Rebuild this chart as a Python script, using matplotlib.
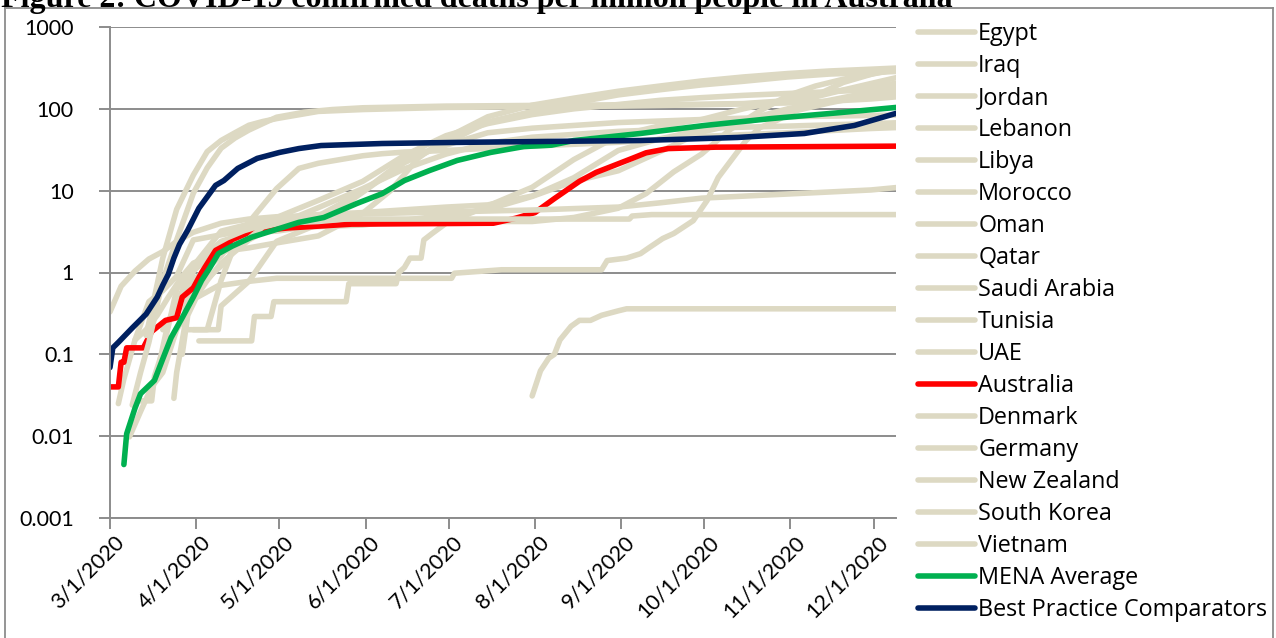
import matplotlib
matplotlib.use("Agg")
import matplotlib.pyplot as plt
import matplotlib.ticker as mticker
import matplotlib.transforms as mtransforms
from matplotlib.lines import Line2D
import pandas as pd

# ---- cumulative COVID-19 deaths per million people (2020) ----
egypt_dates = ["03-08", "03-12", "03-16", "03-20", "03-25", "03-31", "04-05", "04-10", "04-20", "04-30",
               "05-15", "05-31", "06-15", "06-30", "07-15", "07-31", "08-31", "09-30", "10-31", "11-30", "12-09"]
egypt_vals = [0.0098, 0.02, 0.04, 0.06, 0.2, 0.45, 0.8, 1.3, 2.5, 3.8,
              6.2, 10.6, 18.5, 28, 38, 45, 53, 58, 61.5, 66, 67.5]

iraq_dates = ["03-04", "03-06", "03-10", "03-14", "03-18", "03-22", "03-27", "03-31", "04-10", "04-20",
              "04-30", "05-15", "05-31", "06-10", "06-20", "06-30", "07-15", "07-31", "08-15", "08-31",
              "09-15", "09-30", "10-15", "10-31", "11-15", "11-30", "12-09"]
iraq_vals = [0.025, 0.05, 0.15, 0.2, 0.3, 0.5, 0.9, 1.3, 1.8, 2.0,
             2.3, 2.8, 5.3, 10, 25, 44, 80, 111, 135, 164,
             190, 219, 245, 270, 290, 305, 315]

jordan_dates = ["03-27", "03-29", "04-01", "04-09", "04-20", "04-30", "07-02", "07-03", "07-20", "08-25",
                "08-27", "09-03", "09-08", "09-11", "09-16", "09-20", "09-27", "10-02", "10-06", "10-16",
                "10-21", "10-27", "11-01", "11-10", "11-20", "12-01", "12-09"]
jordan_vals = [0.1, 0.3, 0.49, 0.69, 0.78, 0.85, 0.85, 0.98, 1.08, 1.08,
               1.4, 1.5, 1.7, 2.0, 2.6, 3.0, 4.3, 7.6, 14.5, 41,
               59, 72, 88, 145, 210, 270, 305]

lebanon_dates = ["03-10", "03-15", "03-20", "03-25", "03-31", "04-15", "04-30", "05-31", "06-30", "07-15",
                 "07-31", "08-15", "08-31", "09-15", "09-30", "10-15", "10-31", "11-15", "11-30", "12-09"]
lebanon_vals = [0.15, 0.44, 0.6, 0.9, 2.5, 3.1, 3.5, 3.8, 5.0, 5.9,
                8.5, 13, 17.5, 30, 52, 68, 90, 118, 150, 160]

libya_dates = ["04-02", "04-21", "04-22", "04-28", "04-29", "05-25", "05-26", "06-12", "06-13", "06-15",
               "06-17", "06-21", "06-22", "06-25", "06-30", "07-15", "07-31", "08-15", "08-31", "09-15",
               "09-30", "10-15", "10-31", "11-15", "11-30", "12-09"]
libya_vals = [0.146, 0.146, 0.29, 0.29, 0.44, 0.44, 0.73, 0.73, 1.0, 1.15,
              1.5, 1.5, 2.5, 3.0, 4.0, 6.5, 11, 24, 47, 62,
              74, 100, 131, 160, 186, 205]

morocco_dates = ["03-10", "03-16", "03-17", "03-20", "03-25", "03-31", "04-10", "04-20", "04-30", "05-15",
                 "05-31", "06-30", "07-15", "07-31", "08-15", "08-31", "09-15", "09-30", "10-15", "10-31",
                 "11-15", "11-30", "12-09"]
morocco_vals = [0.027, 0.027, 0.054, 0.11, 0.62, 1.2, 3.2, 3.9, 4.6, 5.1,
                5.4, 6.3, 6.7, 8.6, 14.4, 31, 43, 55, 72, 100,
                127, 160, 178]

oman_dates = ["03-31", "04-09", "04-10", "04-20", "04-30", "05-15", "05-31", "06-15", "06-30", "07-15",
              "07-31", "08-15", "08-31", "09-15", "09-30", "10-15", "10-31", "11-15", "11-30", "12-09"]
oman_vals = [0.2, 0.2, 0.39, 0.78, 2.4, 3.9, 9.6, 22, 38, 69,
             93, 118, 148, 171, 196, 217, 245, 266, 278, 286]

qatar_dates = ["03-28", "03-31", "04-10", "04-20", "04-30", "05-15", "05-31", "06-15", "06-30", "07-15",
               "07-31", "08-31", "09-30", "10-31", "11-30", "12-09"]
qatar_vals = [0.35, 1.04, 2.1, 3.5, 4.2, 4.9, 9.7, 24, 36, 51,
              58, 68, 74, 80, 83, 84]

saudi_dates = ["03-24", "03-25", "03-28", "03-31", "04-10", "04-20", "04-30", "05-15", "05-31", "06-15",
               "06-30", "07-15", "07-31", "08-15", "08-31", "09-15", "09-30", "10-15", "10-31", "11-15",
               "11-30", "12-09"]
saudi_vals = [0.029, 0.06, 0.23, 0.6, 1.2, 3.0, 4.7, 7.6, 13, 27,
              47, 66, 85, 100, 113, 127, 137, 146, 154, 162,
              171, 173]

tunisia_dates = ["03-19", "03-22", "03-25", "03-31", "04-10", "04-20", "04-30", "05-15", "05-31", "06-30",
                 "07-31", "08-15", "08-31", "09-10", "09-20", "09-30", "10-10", "10-20", "10-31", "11-10",
                 "11-20", "11-30", "12-09"]
tunisia_vals = [0.085, 0.25, 0.42, 1.2, 2.4, 3.1, 3.2, 3.8, 4.2, 4.2,
                4.2, 4.7, 6.1, 9.2, 17, 28, 55, 90, 145, 190,
                230, 265, 300]

uae_dates = ["03-20", "03-31", "04-10", "04-20", "04-30", "05-08", "05-15", "05-31", "06-07", "06-15",
             "06-30", "07-31", "08-31", "09-30", "10-31", "11-30", "12-09"]
uae_vals = [0.2, 0.8, 1.6, 4.1, 10.6, 18.7, 21.6, 26.7, 28.3, 29.6,
            31, 35, 39, 46, 51, 57.5, 59]

australia_dates = ["03-01", "03-04", "03-05", "03-06", "03-07", "03-13", "03-16", "03-21", "03-25", "03-27",
                   "03-31", "04-03", "04-08", "04-13", "04-19", "04-26", "05-04", "05-27", "07-17", "07-25",
                   "08-01", "08-08", "08-17", "08-23", "09-05", "09-10", "09-18", "10-05", "12-09"]
australia_vals = [0.04, 0.04, 0.08, 0.08, 0.12, 0.12, 0.19, 0.26, 0.28, 0.5,
                  0.65, 1.0, 1.86, 2.3, 2.8, 3.3, 3.5, 3.9, 4.0, 4.6,
                  5.4, 8.0, 13, 16.7, 24.8, 29, 32.7, 34, 35]

denmark_dates = ["03-14", "03-17", "03-20", "03-25", "03-31", "04-05", "04-10", "04-15", "04-20", "04-25",
                 "04-30", "05-15", "05-31", "06-30", "07-31", "08-31", "09-30", "10-31", "11-15", "11-30",
                 "12-09"]
denmark_vals = [0.17, 0.5, 1.5, 5.9, 15.5, 30, 41, 51, 63, 70,
                76, 93, 98, 104, 106, 108, 112, 118, 124, 132,
                140]

germany_dates = ["03-09", "03-12", "03-15", "03-20", "03-25", "03-31", "04-05", "04-10", "04-15", "04-20",
                 "04-25", "04-30", "05-10", "05-20", "05-31", "06-30", "07-31", "08-31", "09-30", "10-15",
                 "10-31", "11-10", "11-20", "11-30", "12-09"]
germany_vals = [0.024, 0.06, 0.14, 0.8, 2.5, 9.3, 19, 33, 44, 55,
                66, 79, 91, 98, 103, 108, 110, 112, 114, 116,
                126, 140, 170, 204, 240]

nz_dates = ["03-29", "04-05", "04-10", "04-15", "04-20", "04-25", "05-01", "05-15", "05-25", "09-04",
            "09-05", "09-12", "12-09"]
nz_vals = [0.2, 0.2, 0.8, 2.2, 2.6, 3.6, 4.0, 4.2, 4.5, 4.5,
           4.9, 5.1, 5.1]

korea_dates = ["03-01", "03-05", "03-10", "03-15", "03-20", "03-25", "03-31", "04-10", "04-20", "04-30",
               "05-31", "06-30", "07-31", "08-31", "09-15", "09-30", "10-31", "11-30", "12-09"]
korea_vals = [0.33, 0.68, 1.04, 1.46, 1.8, 2.4, 3.1, 4.0, 4.5, 4.8,
              5.2, 5.5, 5.8, 6.3, 7.1, 8.1, 9.1, 10.2, 10.9]

vietnam_dates = ["07-31", "08-03", "08-06", "08-08", "08-10", "08-14", "08-17", "08-21", "08-25", "08-31",
                 "09-03", "12-09"]
vietnam_vals = [0.031, 0.063, 0.09, 0.1, 0.15, 0.22, 0.26, 0.26, 0.3, 0.34,
                0.36, 0.36]

mena_dates = ["03-06", "03-07", "03-10", "03-12", "03-17", "03-20", "03-23", "03-27", "03-31", "04-03",
              "04-06", "04-09", "04-14", "04-21", "05-01", "05-08", "05-17", "05-29", "06-07", "06-15",
              "06-24", "07-04", "07-16", "07-28", "08-07", "08-15", "09-08", "10-01", "10-25", "11-19",
              "12-09"]
mena_vals = [0.0045, 0.0107, 0.022, 0.033, 0.048, 0.088, 0.16, 0.28, 0.5, 0.8,
             1.15, 1.7, 2.1, 2.7, 3.45, 4.1, 4.7, 7.0, 9.2, 13.3,
             17.6, 23.4, 29.3, 34.6, 36, 41, 50, 62.6, 76, 90,
             104]

best_dates = ["03-01", "03-02", "03-04", "03-09", "03-14", "03-18", "03-20", "03-22", "03-24", "03-26",
              "03-29", "04-02", "04-08", "04-11", "04-16", "04-23", "05-01", "05-08", "05-16", "06-07",
              "07-04", "08-07", "09-08", "10-13", "11-06", "11-24", "12-09"]
best_vals = [0.069, 0.12, 0.14, 0.21, 0.31, 0.5, 0.7, 0.95, 1.5, 2.2,
             3.3, 6.1, 11.6, 13.3, 18.7, 24.8, 29.3, 32.7, 35.6, 37.7,
             38.9, 40, 41, 44.7, 50, 62.6, 88]

series_labels = ["Egypt", "Iraq", "Jordan", "Lebanon", "Libya", "Morocco", "Oman", "Qatar",
                 "Saudi Arabia", "Tunisia", "UAE", "Australia", "Denmark", "Germany",
                 "New Zealand", "South Korea", "Vietnam", "MENA Average", "Best Practice Comparators"]

y_ticks = [0.001, 0.01, 0.1, 1, 10, 100, 1000]
y_tick_labels = ["0.001", "0.01", "0.1", "1", "10", "100", "1000"]
x_ticks = ["2020-03-01", "2020-04-01", "2020-05-01", "2020-06-01", "2020-07-01",
           "2020-08-01", "2020-09-01", "2020-10-01", "2020-11-01", "2020-12-01"]
x_tick_labels = ["3/1/2020", "4/1/2020", "5/1/2020", "6/1/2020", "7/1/2020",
                 "8/1/2020", "9/1/2020", "10/1/2020", "11/1/2020", "12/1/2020"]

title_text = "Figure 2: COVID-19 confirmed deaths per million people in Australia"

# ---- styling ----
BEIGE = "#DDD9C3"
RED = "#FF0000"
GREEN = "#00B050"
NAVY = "#002060"
GRID = "#8C8C8C"

series = [
    (egypt_dates, egypt_vals, BEIGE), (iraq_dates, iraq_vals, BEIGE),
    (jordan_dates, jordan_vals, BEIGE), (lebanon_dates, lebanon_vals, BEIGE),
    (libya_dates, libya_vals, BEIGE), (morocco_dates, morocco_vals, BEIGE),
    (oman_dates, oman_vals, BEIGE), (qatar_dates, qatar_vals, BEIGE),
    (saudi_dates, saudi_vals, BEIGE), (tunisia_dates, tunisia_vals, BEIGE),
    (uae_dates, uae_vals, BEIGE), (australia_dates, australia_vals, RED),
    (denmark_dates, denmark_vals, BEIGE), (germany_dates, germany_vals, BEIGE),
    (nz_dates, nz_vals, BEIGE), (korea_dates, korea_vals, BEIGE),
    (vietnam_dates, vietnam_vals, BEIGE), (mena_dates, mena_vals, GREEN),
    (best_dates, best_vals, NAVY),
]

W, H = 1276, 638
fig = plt.figure(figsize=(W / 100, H / 100), dpi=100)
fig.patch.set_facecolor("white")

left, right, top, bottom = 110, 896, 27, 518
ax = fig.add_axes([left / W, 1 - bottom / H, (right - left) / W, (bottom - top) / H])

LW = 4.0
handles = []
for (dates, vals, color), label in zip(series, series_labels):
    x = pd.to_datetime(["2020-" + d for d in dates])
    ln, = ax.plot(x, vals, color=color, lw=LW, solid_capstyle="round",
                  solid_joinstyle="round", label=label)
    handles.append(ln)

ax.set_yscale("log")
ax.set_ylim(0.001, 1000)
ax.set_xlim(pd.Timestamp("2020-03-01"), pd.Timestamp("2020-12-09"))

ax.yaxis.set_major_locator(mticker.FixedLocator(y_ticks))
ax.yaxis.set_major_formatter(mticker.FixedFormatter(y_tick_labels))
ax.yaxis.set_minor_locator(mticker.NullLocator())
xt = pd.to_datetime(x_ticks)
ax.set_xticks(xt)
ax.set_xticklabels(x_tick_labels)

ax.grid(axis="y", color=GRID, lw=1.4)
ax.set_axisbelow(True)
for s in ("top", "right"):
    ax.spines[s].set_visible(False)
for s in ("left", "bottom"):
    ax.spines[s].set_color(GRID)
    ax.spines[s].set_linewidth(1.4)

TICK_FAMILY = "Lato"
TICK_SIZE = 15.5
ax.tick_params(axis="both", direction="out", color=GRID, width=1.4, labelcolor="black")
ax.tick_params(axis="y", length=8, pad=18)
ax.tick_params(axis="x", length=8, pad=2)
for t in ax.get_yticklabels():
    t.set_fontfamily(TICK_FAMILY)
    t.set_fontsize(TICK_SIZE)
shift = mtransforms.ScaledTranslation(4 / 100, 0, fig.dpi_scale_trans)
for t in ax.get_xticklabels():
    t.set_fontfamily(TICK_FAMILY)
    t.set_fontsize(TICK_SIZE)
    t.set_rotation(45)
    t.set_ha("right")
    t.set_va("top")
    t.set_rotation_mode("anchor")
    t.set_transform(t.get_transform() + shift)

# legend
LEG_SIZE = 16.8
leg = ax.legend(handles=handles, labels=series_labels, loc="upper left",
                bbox_to_anchor=(918 / W, 1 - 22 / H), bbox_transform=fig.transFigure,
                frameon=False, borderpad=0, borderaxespad=0,
                prop=dict(family="Open Sans", size=LEG_SIZE),
                handlelength=2.45, handletextpad=0.13, labelspacing=0.344)
for lh in leg.get_lines():
    lh.set_linewidth(LW)
    lh.set_solid_capstyle("round")

# chart-area border and title
for xs, ys in (([5, 5], [8, H + 5]), ([5, 1273], [8, 8]), ([1273, 1273], [8, H + 5])):
    fig.add_artist(Line2D([v / W for v in xs], [1 - v / H for v in ys],
                          transform=fig.transFigure, color=GRID, lw=1.3, clip_on=False))
fig.text(1 / W, 1 - 7 / H, title_text, ha="left", va="baseline",
         family="Liberation Serif", weight="bold", size=23)

fig.savefig("out.png", dpi=100, facecolor="white")
